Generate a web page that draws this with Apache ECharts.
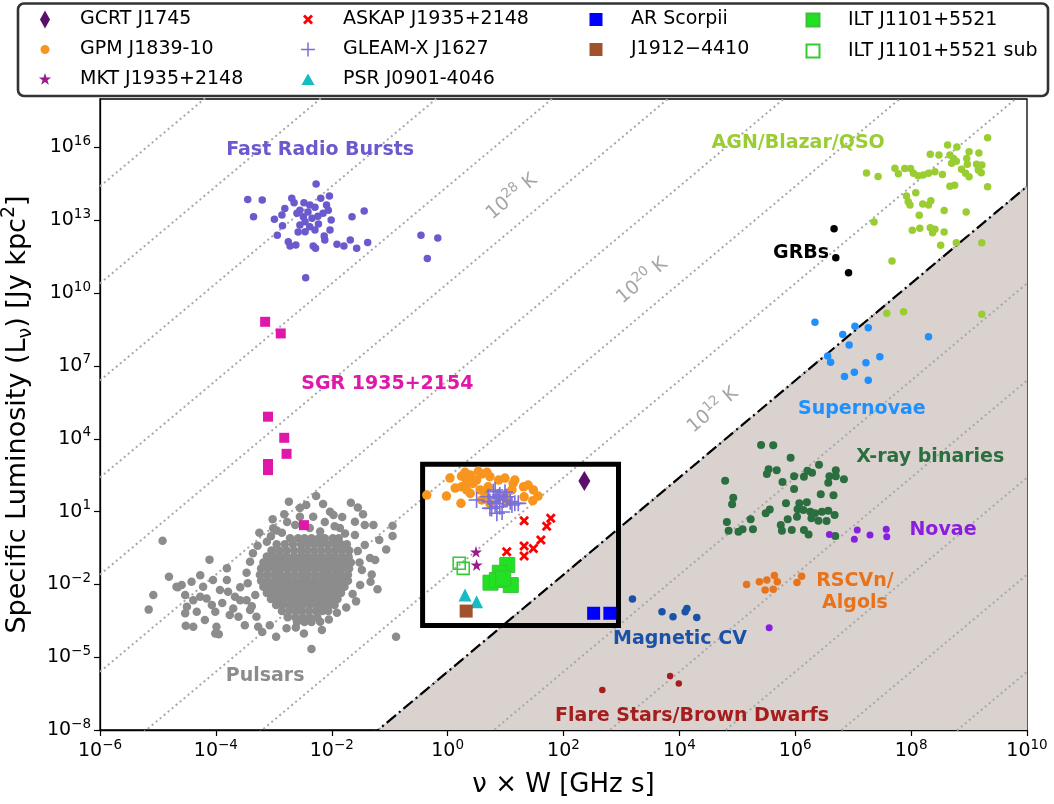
<!DOCTYPE html>
<html><head><meta charset="utf-8">
<script src="https://cdn.jsdelivr.net/npm/echarts@6/dist/echarts.min.js"></script>
<style>html,body{margin:0;padding:0;background:#fff}#c{width:1054px;height:804px}</style>
</head><body><div id="c"></div>
<script>
// ---------- DATA (log10 units: [log10(nu*W / GHz s), log10(L / Jy kpc^2)]) ----------
const frbLog = [[-2.27,14.50],[-3.45,13.86],[-3.20,13.84],[-3.35,13.15],[-2.99,13.05],[-2.85,12.78],[-2.94,12.39],[-2.69,13.91],[-2.65,13.72],[-2.81,13.49],[-2.86,13.22],[-2.60,13.29],[-2.48,13.72],[-2.38,13.63],[-2.29,13.54],[-2.19,13.91],[-2.04,14.00],[-2.09,13.63],[-2.06,13.42],[-2.15,13.29],[-2.49,13.15],[-2.46,12.94],[-2.38,12.74],[-2.29,12.60],[-2.23,12.85],[-2.46,12.53],[-2.01,13.01],[-2.03,12.60],[-2.13,12.35],[-2.12,12.19],[-2.75,12.12],[-2.72,11.94],[-2.62,11.98],[-2.32,11.94],[-2.28,11.85],[-1.91,12.02],[-1.79,11.94],[-1.68,12.19],[-1.57,11.85],[-1.38,12.09],[-1.65,13.15],[-1.44,13.38],[-2.45,10.63],[-0.46,12.39],[-0.17,12.27],[-0.35,11.43],[-2.55,13.42],[-2.41,13.34],[-2.34,13.09],[-2.55,12.81],[-2.24,13.17],[-2.58,12.52]];
const sgrLog = [[-3.15,8.82],[-2.88,8.34],[-3.10,4.91],[-2.82,4.04],[-2.78,3.38],[-3.10,2.96],[-3.10,2.71],[-2.48,0.44]];
const agnLog = [[9.32,16.40],[8.63,16.10],[8.79,16.02],[8.33,15.72],[8.48,15.69],[8.67,15.69],[8.73,15.55],[9.00,15.83],[9.17,15.78],[8.96,15.55],[8.70,15.35],[8.78,15.44],[8.97,15.31],[9.13,15.31],[9.22,15.28],[9.16,15.07],[9.21,14.96],[8.87,15.11],[8.94,14.94],[9.00,14.80],[7.23,14.95],[7.43,14.81],[7.72,15.15],[7.78,14.92],[7.89,15.14],[7.99,15.14],[8.04,14.94],[8.12,14.84],[8.21,14.87],[8.30,14.94],[8.41,15.00],[8.54,14.89],[9.32,14.38],[8.67,14.41],[8.75,14.45],[8.08,14.14],[7.92,14.00],[7.95,13.77],[7.98,13.63],[8.20,13.67],[8.30,13.63],[8.34,13.81],[8.57,13.41],[8.95,13.34],[8.14,13.21],[7.36,12.93],[8.02,12.59],[8.15,12.67],[8.33,12.69],[8.41,12.63],[8.37,12.49],[8.57,12.52],[8.51,11.97],[8.78,12.08],[9.22,12.08],[7.67,11.32],[7.58,9.17],[7.87,9.23],[9.22,9.13]];
const grbLog = [[6.67,12.65],[6.70,11.46],[6.92,10.84]];
const snLog = [[6.34,8.80],[6.82,8.30],[7.03,8.64],[7.26,8.57],[6.93,7.86],[6.56,7.41],[6.61,7.15],[7.22,7.13],[7.46,7.38],[6.85,6.57],[7.02,6.74],[7.26,6.41],[8.30,8.20]];
const xrbLog = [[5.41,3.74],[5.62,3.73],[5.92,3.22],[6.41,2.93],[5.54,2.74],[5.68,2.70],[5.51,2.55],[5.98,2.46],[6.15,2.44],[6.21,2.68],[6.29,2.60],[6.59,2.46],[6.70,2.70],[6.70,2.46],[6.84,2.33],[6.57,2.19],[4.79,2.27],[5.78,2.22],[5.98,1.93],[6.44,1.71],[6.66,1.67],[4.93,1.57],[4.91,1.30],[5.84,1.34],[6.07,1.34],[6.20,1.38],[6.04,1.10],[6.14,1.06],[6.26,0.99],[6.34,0.93],[6.46,0.99],[6.57,1.03],[5.56,1.09],[5.49,0.93],[6.03,0.79],[6.28,0.72],[6.40,0.62],[6.54,0.61],[6.68,0.86],[5.23,0.68],[5.87,0.68],[4.82,0.57],[5.75,0.45],[4.85,0.21],[5.02,0.17],[5.09,0.27],[5.27,0.27],[5.77,0.21],[5.94,0.24],[6.15,0.24],[6.23,0.06],[6.69,-0.01]];
const novaeLog = [[6.59,0.06],[7.07,0.24],[7.02,-0.14],[7.29,0.03],[7.57,0.27],[7.58,-0.04],[5.55,-3.79]];
const rscvnLog = [[5.16,-2.00],[5.38,-1.89],[5.51,-1.82],[5.64,-1.63],[5.69,-1.89],[5.48,-2.23],[5.62,-2.20],[6.03,-1.92],[6.11,-1.66]];
const mcvLog = [[3.19,-2.60],[3.70,-3.13],[3.89,-3.33],[4.10,-3.13],[4.13,-2.99],[4.30,-3.36]];
const flareLog = [[2.67,-6.35],[3.84,-5.78],[3.99,-6.08]];
const gpmLog = [[-0.36,1.68],[-0.02,1.64],[0.23,1.34],[0.24,2.46],[0.39,2.51],[0.59,2.55],[0.73,2.44],[0.88,2.30],[0.24,2.02],[0.44,2.16],[0.56,1.89],[0.39,1.75],[0.70,2.02],[1.13,2.16],[1.31,2.02],[1.48,1.89],[1.32,1.61],[1.47,1.45],[1.02,1.75],[0.90,1.61],[0.59,1.48],[0.73,1.34],[1.02,1.41],[0.50,2.30],[0.33,2.23],[0.30,2.62],[0.53,2.66],[0.68,2.62],[0.99,2.38],[1.16,2.30],[1.39,2.09],[0.13,1.97],[0.33,1.89],[0.65,1.68],[1.11,1.89],[1.56,1.64],[0.04,2.38]];
const gleamLog = [[0.50,1.48],[0.70,1.61],[0.79,1.82],[0.82,1.34],[0.85,0.93],[0.88,1.61],[0.90,1.20],[0.76,1.13],[0.96,1.48],[1.02,1.61],[1.08,1.41],[1.16,1.34],[1.22,1.34],[0.73,1.41],[0.82,1.89],[0.90,1.68],[0.99,1.80],[0.73,1.14],[0.85,1.56],[1.11,1.27],[0.94,0.98]];
const askapLog = [[1.32,0.62],[1.71,0.40],[1.78,0.72],[1.61,-0.17],[1.48,-0.52],[1.32,-0.42],[1.32,-0.83],[1.02,-0.66]];
const mktLog = [[0.49,-0.66],[0.50,-1.20]];
const iltLog = [[1.03,-1.20],[0.90,-1.52],[0.74,-1.93],[1.09,-2.03],[0.85,-1.82],[0.96,-1.75]];
const iltSubLog = [[0.20,-1.13],[0.27,-1.34]];
const psrJ0901Log = [[0.30,-2.44],[0.50,-2.72]];
const j1912Log = [[0.32,-3.10]];
const arScoLog = [[2.52,-3.19],[2.80,-3.19]];
const gcrtLog = [[2.36,2.26]];
const pulsarOuterLog = [[-4.92,-0.20],[-5.08,-2.44],[-5.16,-3.04],[-4.81,-1.69],[-4.11,-0.98],[-2.35,-4.66],[-0.89,-4.16],[-0.95,0.42],[-0.95,-0.01],[-2.74,1.41],[-2.27,1.64],[-2.15,1.31],[-2.44,1.27],[-1.67,1.36],[-1.55,1.17],[-1.46,0.89],[-3.02,0.68],[-2.82,0.89],[-3.25,0.13],[-3.28,-0.41],[-3.41,-1.07],[-3.81,-1.34],[-3.81,-1.82],[-4.66,-2.12],[-4.59,-2.03],[-4.53,-2.44],[-4.42,-1.89],[-4.50,-2.92],[-4.53,-3.19],[-4.52,-3.70],[-4.39,-3.75],[-4.33,-3.13],[-4.22,-2.10],[-4.16,-2.58],[-4.07,-2.85],[-4.01,-3.13],[-3.99,-3.75],[-4.01,-4.02],[-3.95,-4.05],[-3.93,-2.23],[-3.79,-2.30],[-3.70,-2.99],[-3.61,-3.33],[-3.58,-2.12],[-3.47,-2.65],[-3.32,-2.44],[-3.30,-3.33],[-3.27,-3.75],[-2.96,-4.16],[-2.78,-3.81],[-2.48,-4.02],[-2.17,-3.88],[-2.20,-3.54],[-1.91,-3.17],[-1.64,-2.40],[-1.21,-2.20],[-1.33,-1.89],[-1.31,-1.59],[-1.25,-1.00],[-1.06,-0.56],[-1.18,-0.17],[-1.28,0.45],[-1.43,0.45],[-1.60,0.58],[-1.77,0.10],[-1.97,0.86],[-2.03,0.99],[-2.32,0.79],[-2.55,0.79],[-2.86,0.13],[-3.12,-0.24],[-3.01,0.31],[-3.47,-1.52],[-3.67,-2.51],[-4.27,-2.51],[-4.39,-2.65],[-4.68,-2.10],[-2.63,0.45],[-2.38,0.32],[-2.12,0.57],[-1.86,0.32],[-1.60,0.03],[-1.43,-0.38],[-1.34,-0.91],[-1.48,-1.41],[-1.51,-2.03],[-2.77,0.57],[-1.82,0.78],[-2.55,1.15],[-4.27,-1.62],[-4.05,-1.82],[-3.89,-2.77],[-3.58,-2.65],[-3.41,-3.06],[-3.76,-3.26],[-4.19,-3.47],[-3.50,-3.68],[-3.20,-3.96],[-3.07,-3.68],[-3.36,-0.72],[-3.45,-1.95],[-3.38,-2.90],[-1.55,-0.62],[-1.52,-1.10],[-1.58,-2.70],[-1.75,-2.95],[-2.05,-3.45],[-2.62,-3.78],[-3.05,-0.02],[-2.95,0.22],[-2.20,0.18],[-1.95,0.40]];
// dense core of the pulsar cloud, read row by row: [log10 L, [log10 nuW, ...]]
const pulsarCoreRows = [
 [-0.10,[-2.72,-2.58,-2.47,-2.35,-2.22,-2.12,-1.98,-1.88]],
 [-0.35,[-2.95,-2.81,-2.67,-2.53,-2.42,-2.30,-2.19,-2.07,-1.95,-1.84,-1.74]],
 [-0.60,[-3.04,-2.91,-2.78,-2.65,-2.53,-2.42,-2.30,-2.18,-2.06,-1.94,-1.82,-1.70]],
 [-0.85,[-3.12,-3.00,-2.88,-2.77,-2.65,-2.53,-2.42,-2.30,-2.18,-2.06,-1.95,-1.83,-1.71]],
 [-1.10,[-3.18,-3.06,-2.95,-2.83,-2.71,-2.60,-2.48,-2.36,-2.24,-2.12,-2.00,-1.89,-1.77,-1.67]],
 [-1.35,[-3.22,-3.10,-2.98,-2.87,-2.75,-2.63,-2.51,-2.40,-2.28,-2.16,-2.04,-1.93,-1.81,-1.70]],
 [-1.60,[-3.24,-3.12,-3.00,-2.89,-2.77,-2.65,-2.53,-2.42,-2.30,-2.18,-2.07,-1.95,-1.84,-1.72]],
 [-1.85,[-3.22,-3.10,-2.98,-2.86,-2.75,-2.63,-2.51,-2.40,-2.28,-2.16,-2.04,-1.93,-1.81,-1.72]],
 [-2.10,[-3.18,-3.06,-2.95,-2.83,-2.71,-2.60,-2.48,-2.36,-2.25,-2.13,-2.01,-1.90,-1.78]],
 [-2.35,[-3.12,-3.00,-2.89,-2.77,-2.65,-2.53,-2.42,-2.30,-2.18,-2.07,-1.95,-1.84]],
 [-2.60,[-3.05,-2.93,-2.82,-2.70,-2.58,-2.46,-2.35,-2.23,-2.11,-2.00,-1.90]],
 [-2.85,[-2.96,-2.85,-2.73,-2.61,-2.50,-2.38,-2.26,-2.15,-2.04,-1.95]],
 [-3.10,[-2.86,-2.74,-2.62,-2.51,-2.39,-2.27,-2.16,-2.06]],
 [-3.35,[-2.76,-2.63,-2.50,-2.38,-2.25]],
 [-3.55,[-2.60,-2.47,-2.35]]
];
// brightness-temperature lines (log10 T in K) and labelled ones
const tempExps = [-8,-4,0,4,8,12,16,20,24,28,32,36,40,44];
const tempLabelExps = [28,20,12];
const limitTempExp = 12;
// highlighted box: [min, max] in each axis
const boxNuW = [0.37, 890];
const boxL = [2e-4, 890];
// axis ranges
const xRange = [1e-6, 1e10], yRange = [1e-8, 1e18];

// ---------- helpers ----------
const F = 'DejaVu Sans';
const lin = a => a.map(p => [Math.pow(10, p[0]), Math.pow(10, p[1])]);
const pulsarCore = [];
pulsarCoreRows.forEach(r => r[1].forEach(x => pulsarCore.push([x, r[0]])));
const pulsarAllLog = pulsarOuterLog.concat(pulsarCore);
const TB_CONST = 17.6; // log10 T = log10 L - 2 log10(nuW) + const
const lineL = (e, lx) => Math.pow(10, 2 * lx + e - TB_CONST);
const lx0 = Math.log10(xRange[0]), lx1 = Math.log10(xRange[1]);
const supLbl = v => { const e = Math.round(Math.log10(v)); return '{b|10}{s|' + (e < 0 ? '\u2212' + (-e) : e) + '}'; };
const tickRich = {
  b: {fontFamily: F, fontSize: 19, lineHeight: 26, color: '#000'},
  s: {fontFamily: F, fontSize: 13.5, lineHeight: 13, verticalAlign: 'top', color: '#000'}
};

const xStar = 'path://M50,0 L61,35 L98,35 L68,57 L79,91 L50,70 L21,91 L32,57 L2,35 L39,35 Z';
const xCross = 'path://M2,0 L5,3 L8,0 L10,2 L7,5 L10,8 L8,10 L5,7 L2,10 L0,8 L3,5 L0,2 Z';
const xPlus = 'path://M4.5,0 H5.5 V4.5 H10 V5.5 H5.5 V10 H4.5 V5.5 H0 V4.5 H4.5 Z';
// legend icons (19x19 boxes)
const P = 'path://M0,0 M19,19 ';
const icons = {
  diamond: P + 'M9.5,0.5 L14.5,9.5 L9.5,18.5 L4.5,9.5 Z',
  circle: P + 'M9.5,5 A4.5,4.5 0 1 1 9.49,5 Z',
  star: P + 'M9.5,3 L11.03,7.4 L15.68,7.49 L11.97,10.3 L13.32,14.76 L9.5,12.1 L5.68,14.76 L7.03,10.3 L3.32,7.49 L7.97,7.4 Z',
  cross: P + 'M6.5,4.5 L9.5,7.5 L12.5,4.5 L14.5,6.5 L11.5,9.5 L14.5,12.5 L12.5,14.5 L9.5,11.5 L6.5,14.5 L4.5,12.5 L7.5,9.5 L4.5,6.5 Z',
  plus: P + 'M8.75,2.5 H10.25 V8.75 H16.5 V10.25 H10.25 V16.5 H8.75 V10.25 H2.5 V8.75 H8.75 Z',
  tri: P + 'M9.5,3.5 L16,15 L3,15 Z',
  sq: P + 'M3,3 H16 V16 H3 Z'
};

function sc(name, data, color, symbol, size, extra) {
  return Object.assign({
    type: 'scatter', name: name, data: lin(data), symbol: symbol, symbolSize: size,
    itemStyle: {color: color, opacity: 1}, z: 5, silent: true, emphasis: {disabled: true}
  }, extra || {});
}

const series = [];
// shaded region below the limit line
const xb = Math.pow(10, (Math.log10(yRange[0]) + TB_CONST - limitTempExp) / 2);
const shadeVerts = [[xb, yRange[0]], [xRange[1], lineL(limitTempExp, lx1)], [xRange[1], yRange[0]]];
series.push({
  type: 'custom', name: 'shade', data: shadeVerts, encode: {x: 0, y: 1}, z: 1, silent: true, clip: true,
  renderItem: (params, api) => {
    if (params.dataIndex !== 0) return null;
    return {type: 'polygon', shape: {points: shadeVerts.map(v => api.coord(v))}, style: {fill: '#d9d2cf'}};
  }
});
// temperature lines
tempExps.forEach(e => series.push({
  type: 'line', name: 'T' + e, data: [[xRange[0], lineL(e, lx0)], [xRange[1], lineL(e, lx1)]],
  showSymbol: false, symbol: 'none', silent: true, clip: true, z: 2,
  lineStyle: {color: '#a8a8a8', width: 2, type: [2, 3.2]}
}));
series.push({
  type: 'line', name: 'limit', data: [[xRange[0], lineL(limitTempExp, lx0)], [xRange[1], lineL(limitTempExp, lx1)]],
  showSymbol: false, symbol: 'none', silent: true, clip: true, z: 3,
  lineStyle: {color: '#000', width: 2.2, type: [12, 4, 2, 4]}
});
// temperature labels
series.push({
  type: 'scatter', name: 'tlabels', silent: true, z: 3, symbolSize: 1, itemStyle: {color: 'rgba(0,0,0,0)', opacity: 1},
  data: [
    {value: [Math.pow(10, 1.11), Math.pow(10, 13.96)], t: tempLabelExps[0]},
    {value: [Math.pow(10, 3.36), Math.pow(10, 10.50)], t: tempLabelExps[1]},
    {value: [Math.pow(10, 4.58), Math.pow(10, 5.18)], t: tempLabelExps[2]}
  ],
  label: {
    show: true, position: 'inside', rotate: 40, opacity: 1,
    formatter: p => '{t|10}{s|' + p.data.t + '}{t| K}',
    rich: {
      t: {fontFamily: F, fontSize: 19, lineHeight: 26, color: '#a6a6a6'},
      s: {fontFamily: F, fontSize: 13.5, lineHeight: 13, verticalAlign: 'top', color: '#a6a6a6'}
    }
  }
});
// highlighted box
series.push({
  type: 'line', name: 'box', showSymbol: false, symbol: 'none', silent: true, clip: false, z: 4,
  data: [[boxNuW[0], boxL[0]], [boxNuW[1], boxL[0]], [boxNuW[1], boxL[1]], [boxNuW[0], boxL[1]], [boxNuW[0], boxL[0]]],
  lineStyle: {color: '#000', width: 5, join: 'miter', cap: 'square'}
});
// populations
series.push(sc('Pulsars', pulsarAllLog, '#8c8c8c', 'circle', 8.5));
series.push(sc('FRB', frbLog, '#6a5acd', 'circle', 7.5));
series.push(sc('SGR', sgrLog, '#e018aa', 'rect', 10, {z: 6}));
series.push(sc('AGN', agnLog, '#9acd32', 'circle', 7.5));
series.push(sc('GRB', grbLog, '#000000', 'circle', 7.5));
series.push(sc('SN', snLog, '#1e90ff', 'circle', 7.5));
series.push(sc('XRB', xrbLog, '#2b6e3f', 'circle', 8));
series.push(sc('Novae', novaeLog, '#8a1ee0', 'circle', 7));
series.push(sc('RSCVn', rscvnLog, '#e8731a', 'circle', 7.5));
series.push(sc('MCV', mcvLog, '#1a52a8', 'circle', 7.5));
series.push(sc('Flare', flareLog, '#a51d1d', 'circle', 6.5));
// named sources
series.push(sc('GPM J1839-10', gpmLog, '#f7951f', 'circle', 9.5, {z: 6}));
series.push(sc('GLEAM-X J1627', gleamLog, '#7a6fd8', xPlus, 16, {z: 7}));
series.push(sc('ASKAP J1935+2148', askapLog, '#ff0000', xCross, 10, {z: 6}));
series.push(sc('MKT J1935+2148', mktLog, '#9b1b8b', xStar, 12, {z: 6}));
series.push(sc('ILT J1101+5521', iltLog, '#22e022', 'rect', 15, {z: 6, itemStyle: {color: '#22e022', borderColor: '#3cc03c', borderWidth: 1, opacity: 1}}));
series.push(sc('ILT J1101+5521 sub', iltSubLog, 'rgba(0,0,0,0)', 'rect', 12, {z: 6, itemStyle: {color: 'rgba(255,255,255,0)', borderColor: '#33cc33', borderWidth: 1.6, opacity: 1}}));
series.push(sc('PSR J0901-4046', psrJ0901Log, '#16bcc4', 'triangle', 13, {z: 6}));
series.push(sc('J1912\u22124410', j1912Log, '#a0522d', 'rect', 13, {z: 6}));
series.push(sc('AR Scorpii', arScoLog, '#0000ff', 'rect', 13, {z: 6}));
series.push(sc('GCRT J1745', gcrtLog, '#5a0f6b', 'diamond', [12, 20], {z: 6}));

// annotations
const annotations = [
  ['Fast Radio Bursts', -2.20, 15.89, '#6a5acd'],
  ['AGN/Blazar/QSO', 6.05, 16.17, '#9acd32'],
  ['GRBs', 6.10, 11.65, '#000000'],
  ['SGR 1935+2154', -1.04, 6.25, '#e018aa'],
  ['Supernovae', 7.15, 5.22, '#1e90ff'],
  ['X-ray binaries', 8.33, 3.25, '#2b6e3f'],
  ['Novae', 8.55, 0.24, '#8a1ee0'],
  ['RSCVn/\nAlgols', 7.03, -2.32, '#e8731a'],
  ['Magnetic CV', 4.01, -4.26, '#1a52a8'],
  ['Pulsars', -3.15, -5.78, '#8c8c8c'],
  ['Flare Stars/Brown Dwarfs', 4.22, -7.43, '#a51d1d']
];
series.push({
  type: 'scatter', name: 'annot', silent: true, z: 8, symbolSize: 1, itemStyle: {color: 'rgba(0,0,0,0)', opacity: 1},
  data: annotations.map(a => ({value: [Math.pow(10, a[1]), Math.pow(10, a[2])], label: {formatter: a[0], color: a[3]}})),
  label: {show: true, position: 'inside', opacity: 1, fontFamily: F, fontWeight: 'bold', fontSize: 19, lineHeight: 22, align: 'center'}
});

const legCommon = {
  orient: 'vertical', top: 9.5, itemWidth: 60, itemHeight: 19, itemGap: 10, padding: 0, symbolKeepAspect: true,
  selectedMode: false, textStyle: {fontFamily: F, fontSize: 19, color: '#000', lineHeight: 20}, z: 20
};

const option = {
  animation: false,
  backgroundColor: '#fff',
  grid: {left: 100, right: 27, top: 99, bottom: 74, containLabel: false, outerBoundsMode: 'none',
         show: true, borderColor: '#000', borderWidth: 1.3, backgroundColor: 'transparent'},
  xAxis: {
    type: 'log', logBase: 10, min: xRange[0], max: xRange[1], interval: 2,
    name: 'ν × W [GHz s]', nameLocation: 'middle', nameGap: 42,
    nameTextStyle: {fontFamily: F, fontSize: 26, color: '#000'},
    axisLine: {show: true, onZero: false, lineStyle: {color: '#000', width: 1.3}},
    axisTick: {show: true, inside: false, length: 6, lineStyle: {color: '#000', width: 1.2}},
    axisLabel: {formatter: supLbl, rich: tickRich, margin: 8, showMaxLabel: true, showMinLabel: true},
    splitLine: {show: false}, minorTick: {show: false}
  },
  yAxis: {
    type: 'log', logBase: 10, min: yRange[0], max: yRange[1], interval: 3,
    name: '{a|Specific Luminosity (L}{sub|ν}{a|) [Jy kpc}{sup|2}{a|]}', nameLocation: 'middle', nameGap: 55, nameRotate: 90,
    nameTextStyle: {
      rich: {
        a: {fontFamily: F, fontSize: 27, lineHeight: 36, color: '#000'},
        sub: {fontFamily: F, fontSize: 19, lineHeight: 19, verticalAlign: 'bottom', color: '#000'},
        sup: {fontFamily: F, fontSize: 19, lineHeight: 19, verticalAlign: 'top', color: '#000'}
      }
    },
    axisLine: {show: true, onZero: false, lineStyle: {color: '#000', width: 1.3}},
    axisTick: {show: true, inside: false, length: 6, lineStyle: {color: '#000', width: 1.2}},
    axisLabel: {formatter: supLbl, rich: tickRich, margin: 9, showMaxLabel: false},
    splitLine: {show: false}, minorTick: {show: false}
  },
  legend: [
    Object.assign({left: 35.5, data: [{name: 'GCRT J1745', icon: icons.diamond}, {name: 'GPM J1839-10', icon: icons.circle}, {name: 'MKT J1935+2148', icon: icons.star}]}, legCommon),
    Object.assign({left: 298.5, data: [{name: 'ASKAP J1935+2148', icon: icons.cross}, {name: 'GLEAM-X J1627', icon: icons.plus}, {name: 'PSR J0901-4046', icon: icons.tri}]}, legCommon),
    Object.assign({left: 586.5, data: [{name: 'AR Scorpii', icon: icons.sq}, {name: 'J1912\u22124410', icon: icons.sq}]}, legCommon),
    Object.assign({left: 802.5, data: [{name: 'ILT J1101+5521', icon: icons.sq}, {name: 'ILT J1101+5521 sub', icon: icons.sq}]}, legCommon)
  ],
  graphic: [{
    type: 'rect', z: 15, silent: true,
    shape: {x: 18, y: 3.5, width: 1030, height: 92.5, r: 6},
    style: {fill: '#fff', stroke: '#333', lineWidth: 2.6}
  }],
  series: series
};
const chart = echarts.init(document.getElementById('c'), null, {renderer: 'canvas'});
chart.setOption(option);
</script>
</body></html>
